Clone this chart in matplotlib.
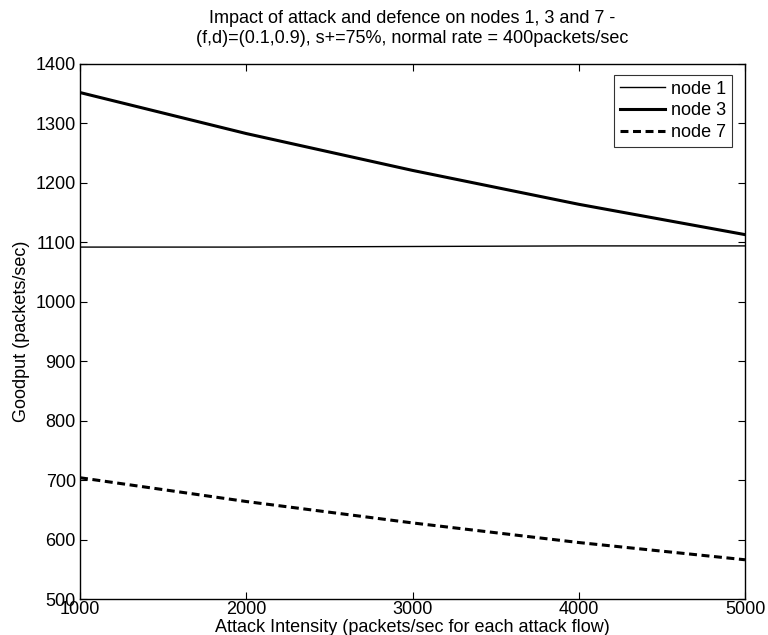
import matplotlib
matplotlib.use("Agg")
import matplotlib.pyplot as plt

plt.rcParams['font.family'] = ['Liberation Sans', 'DejaVu Sans']

attack = [1000, 2000, 3000, 4000, 5000]
node1 = [1092, 1092, 1093, 1094, 1094]
node3 = [1352, 1283, 1221, 1164, 1113]
node7 = [704, 664, 628, 595, 566]

xticks = [1000, 2000, 3000, 4000, 5000]
yticks = [500, 600, 700, 800, 900, 1000, 1100, 1200, 1300, 1400]

FS = 13

fig = plt.figure(figsize=(7.68, 6.35), dpi=100)
L, R, T, B = 80, 745, 64, 599
ax = fig.add_axes([L/768, 1-B/635, (R-L)/768, (B-T)/635])

ax.plot(attack, node1, color='black', lw=1.0, label='node 1')
ax.plot(attack, node3, color='black', lw=2.2, label='node 3')
ax.plot(attack, node7, color='black', lw=2.2, ls=(0, (2.6, 1.5)), label='node 7')

ax.set_xlim(1000, 5000)
ax.set_ylim(500, 1400)
ax.set_xticks(xticks)
ax.set_yticks(yticks)
ax.tick_params(direction='in', top=True, right=True, length=5, width=0.8,
               labelsize=FS)
ax.tick_params(axis='x', pad=1.5)
ax.tick_params(axis='y', pad=3)
for s in ax.spines.values():
    s.set_linewidth(1.0)

ax.set_xlabel('Attack Intensity (packets/sec for each attack flow)', fontsize=FS, labelpad=0.5)
ax.set_ylabel('Goodput (packets/sec)', fontsize=FS, labelpad=4)
ax.set_title('Impact of attack and defence on nodes 1, 3 and 7 -\n(f,d)=(0.1,0.9), s+=75%, normal rate = 400packets/sec',
             fontsize=FS, pad=15, linespacing=1.25)

leg = ax.legend(loc='upper right', bbox_to_anchor=((732 - L)/(R - L), (B - 75)/(B - T)),
                bbox_transform=ax.transAxes, borderaxespad=0,
                fontsize=FS, frameon=True, fancybox=False, edgecolor='black',
                handlelength=2.5, handletextpad=0.35, labelspacing=0.26,
                borderpad=0.32)
leg.get_frame().set_linewidth(0.8)

fig.savefig('out.png', dpi=100)
